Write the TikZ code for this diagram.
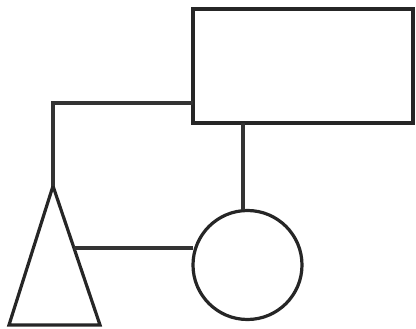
\documentclass[tikz,border=0pt]{standalone}
\usetikzlibrary{calc}
\begin{document}
\begin{tikzpicture}[x=1pt,y=-1pt,
  shp/.style={draw=black!85,line width=3.2pt,inner sep=0pt,outer sep=0pt},
  conn/.style={draw=black!80,line width=3.2pt}]
\useasboundingbox (0,0) rectangle (416,329);
\node[shp,rectangle,minimum width=220pt,minimum height=114pt] (box) at (303,66) {};
\node[shp,circle,minimum size=109pt] (circ) at (247.5,265) {};
\coordinate (apex) at (53,186);
\coordinate (bl) at (9,325);
\coordinate (br) at (100,325);
\draw[shp,line join=miter] (apex) -- (br) -- (bl) -- cycle;
\coordinate (tside) at ($(apex)!0.446!(br)$);
\coordinate (corner) at (53,103);
\draw[conn] (box.west |- corner) -- (corner) -- (apex);
\draw[conn] (box.south -| 243,0) -- (circ.north -| 243,0);
\draw[conn] (tside) -- (tside -| circ.west);
\end{tikzpicture}
\end{document}
